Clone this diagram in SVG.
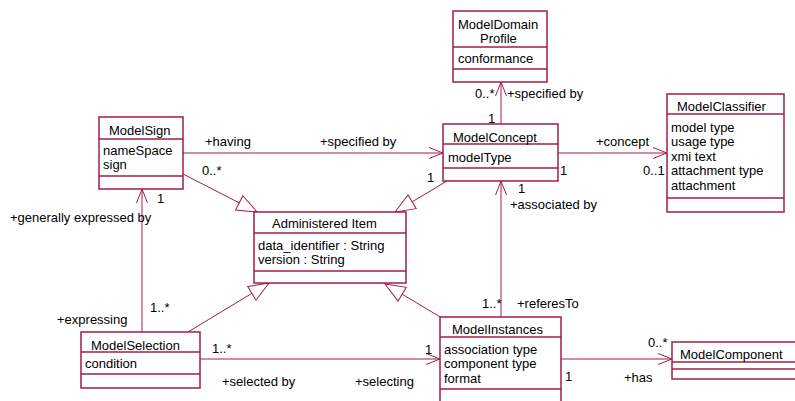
<svg xmlns="http://www.w3.org/2000/svg" width="795" height="401" viewBox="0 0 795 401">
<defs>
<style>
.box{fill:#fff;stroke:#A01E48;stroke-width:1.5}
.sep{stroke:#A01E48;stroke-width:1.5}
.ln{fill:none;stroke:#A01E48;stroke-width:1}
text{font-family:"Liberation Sans",Arial,sans-serif;font-size:13px;fill:#000}
</style>
<marker id="open" markerUnits="userSpaceOnUse" markerWidth="16" markerHeight="13" refX="14" refY="5.5" orient="auto" overflow="visible">
<path d="M0,0 L14,5.5 L0,11" fill="none" stroke="#A01E48" stroke-width="1"/>
</marker>
<marker id="tri" markerUnits="userSpaceOnUse" markerWidth="22" markerHeight="18" refX="20" refY="8" orient="auto" overflow="visible">
<path d="M0,0 L20,8 L0,16 Z" fill="#fff" stroke="#A01E48" stroke-width="1"/>
</marker>
</defs>
<rect width="795" height="401" fill="#fff"/>
<g id="connectors">
<path class="ln" d="M501,124 L501,82" marker-end="url(#open)"/>
<path class="ln" d="M183,153 L443,153" marker-end="url(#open)"/>
<path class="ln" d="M558,153 L667,153" marker-end="url(#open)"/>
<path class="ln" d="M142,332 L142,189" marker-end="url(#open)"/>
<path class="ln" d="M200,359 L440,359" marker-end="url(#open)"/>
<path class="ln" d="M501,317 L501,181" marker-end="url(#open)"/>
<path class="ln" d="M561,359 L672,359" marker-end="url(#open)"/>
<path class="ln" d="M183,174 L257,212" marker-end="url(#tri)"/>
<path class="ln" d="M447,181 L395,212" marker-end="url(#tri)"/>
<path class="ln" d="M188,332 L269,283" marker-end="url(#tri)"/>
<path class="ln" d="M442,318 L385,284" marker-end="url(#tri)"/>
<text x="475" y="98">0..*</text>
<text x="507" y="98">+specified by</text>
<text x="488" y="123">1</text>
<text x="205" y="146">+having</text>
<text x="320" y="146">+specified by</text>
<text x="202" y="175">0..*</text>
<text x="157" y="203">1</text>
<text x="427" y="182">1</text>
<text x="596" y="146">+concept</text>
<text x="643" y="175">0..1</text>
<text x="560" y="175">1</text>
<text x="518" y="193">1</text>
<text x="510" y="209">+associated by</text>
<text x="10" y="222">+generally expressed by</text>
<text x="150" y="312">1..*</text>
<text x="57" y="324">+expressing</text>
<text x="212" y="353">1..*</text>
<text x="222" y="386">+selected by</text>
<text x="355" y="386">+selecting</text>
<text x="425" y="354">1</text>
<text x="482" y="308">1..*</text>
<text x="517" y="308">+referesTo</text>
<text x="565" y="381">1</text>
<text x="648" y="347">0..*</text>
<text x="624" y="382">+has</text>
</g>
<g id="ModelDomainProfile">
<rect class="box" x="453" y="11" width="94" height="71"/>
<line class="sep" x1="453" y1="47" x2="547" y2="47"/>
<line class="sep" x1="453" y1="69" x2="547" y2="69"/>
<text x="458" y="29">ModelDomain</text>
<text x="480" y="43">Profile</text>
<text x="458" y="63">conformance</text>
</g>
<g id="ModelSign">
<rect class="box" x="99" y="117" width="84" height="72"/>
<line class="sep" x1="99" y1="139" x2="183" y2="139"/>
<line class="sep" x1="99" y1="176" x2="183" y2="176"/>
<text x="109" y="135">ModelSign</text>
<text x="103" y="155">nameSpace</text>
<text x="103" y="169">sign</text>
</g>
<g id="ModelConcept">
<rect class="box" x="443" y="124" width="115" height="57"/>
<line class="sep" x1="443" y1="144" x2="558" y2="144"/>
<line class="sep" x1="443" y1="168" x2="558" y2="168"/>
<text x="453" y="142">ModelConcept</text>
<text x="448" y="162">modelType</text>
</g>
<g id="ModelClassifier">
<rect class="box" x="667" y="94" width="117" height="118"/>
<line class="sep" x1="667" y1="114" x2="784" y2="114"/>
<line class="sep" x1="667" y1="198" x2="784" y2="198"/>
<text x="677" y="111">ModelClassifier</text>
<text x="671" y="132">model type</text>
<text x="671" y="146">usage type</text>
<text x="671" y="161">xmi text</text>
<text x="671" y="175">attachment type</text>
<text x="671" y="190">attachment</text>
</g>
<g id="AdministeredItem">
<rect class="box" x="254" y="212" width="152" height="71"/>
<line class="sep" x1="254" y1="233" x2="406" y2="233"/>
<line class="sep" x1="254" y1="271" x2="406" y2="271"/>
<text x="272" y="228">Administered Item</text>
<text x="258" y="250">data_identifier : String</text>
<text x="258" y="264">version : String</text>
</g>
<g id="ModelSelection">
<rect class="box" x="81" y="332" width="119" height="56"/>
<line class="sep" x1="81" y1="352" x2="200" y2="352"/>
<line class="sep" x1="81" y1="374" x2="200" y2="374"/>
<text x="91" y="350">ModelSelection</text>
<text x="85" y="368">condition</text>
</g>
<g id="ModelInstances">
<rect class="box" x="440" y="317" width="121" height="92"/>
<line class="sep" x1="440" y1="337" x2="561" y2="337"/>
<line class="sep" x1="440" y1="389" x2="561" y2="389"/>
<text x="452" y="334">ModelInstances</text>
<text x="444" y="354">association type</text>
<text x="444" y="368">component type</text>
<text x="444" y="383">format</text>
</g>
<g id="ModelComponent">
<rect class="box" x="672" y="342" width="130" height="37"/>
<line class="sep" x1="672" y1="362" x2="802" y2="362"/>
<line class="sep" x1="672" y1="369" x2="802" y2="369"/>
<text x="680" y="359">ModelComponent</text>
</g>
</svg>
